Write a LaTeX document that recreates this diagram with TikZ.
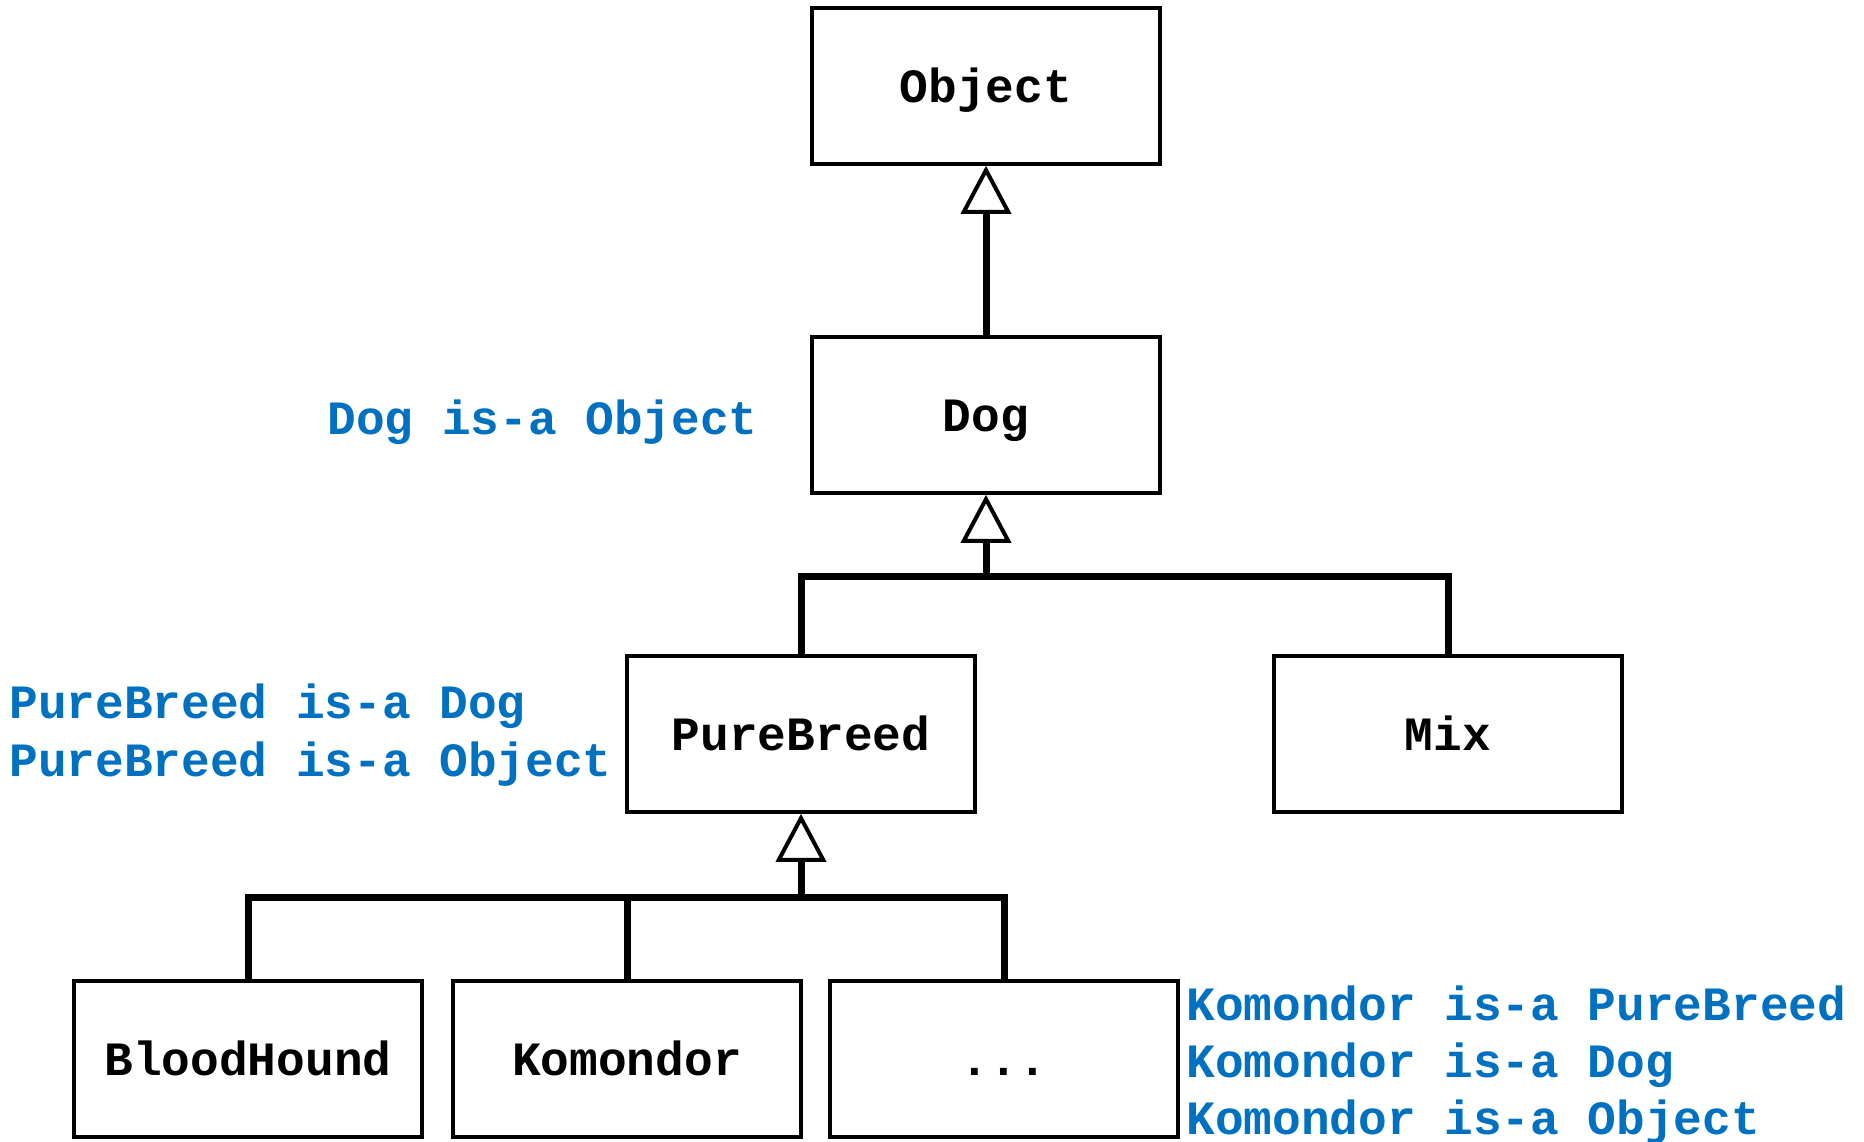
\documentclass[tikz,border=0pt]{standalone}
\usepackage{fontspec}
\setmonofont{Liberation Mono}
\usetikzlibrary{arrows.meta}
\definecolor{isablue}{HTML}{0070C0}

\begin{document}
\begin{tikzpicture}[x=0.5pt,y=-0.5pt,
        every node/.style={font=\ttfamily\bfseries\fontsize{23.9}{28.5}\selectfont},
        class/.style={draw,line width=1.8pt,minimum width=174pt,minimum height=78pt,
            inner sep=0pt,text height=16pt,text depth=0pt},
        link/.style={draw,line width=3.5pt},
        isa/.style={-{Triangle[open,length=24pt,width=25pt,line width=2pt]}},
        note/.style={color=isablue,anchor=base west,inner sep=0pt}]

    \useasboundingbox (0,0) rectangle (1864,1141);

    \node[class] (object) at (986,86) {Object};
    \node[class] (dog) at (986,415) {Dog};
    \node[class] (pure) at (801,734) {PureBreed};
    \node[class] (mix) at (1448,734) {Mix};
    \node[class] (blood) at (248,1059) {BloodHound};
    \node[class] (komondor) at (627,1059) {Komondor};
    \node[class] (more) at (1004,1059) {...};

    \coordinate (fork1) at (986,576);
    \coordinate (fork2) at (801,897);

    \draw[link,isa] (dog) -- (object);
    \draw[link] (pure.north) |- (fork1) -| (mix.north);
    \draw[link,isa] (fork1) -- (dog.south);
    \draw[link] (blood.north) |- (fork2) -| (more.north);
    \draw[link] (komondor.north) -- (komondor.north |- fork2);
    \draw[link,isa] (fork2) -- (pure.south);

    \node[note] (dogisa) at (327,434) {Dog is-a Object};
    \node[note] (pureisa1) at (9,718) {PureBreed is-a Dog};
    \node[note] (pureisa2) at (9,776) {PureBreed is-a Object};
    \node[note] (komisa1) at (1186,1020) {Komondor is-a PureBreed};
    \node[note] (komisa2) at (1186,1077) {Komondor is-a Dog};
    \node[note] (komisa3) at (1186,1134) {Komondor is-a Object};
\end{tikzpicture}
\end{document}
